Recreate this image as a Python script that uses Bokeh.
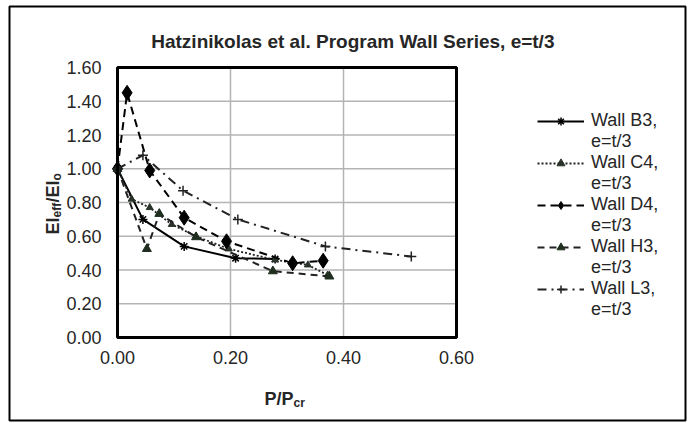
import math
from bokeh.plotting import figure
from bokeh.models import Legend, LegendItem, Label, BoxAnnotation, Range1d
from bokeh.core.properties import value
from bokeh.embed import file_html
from bokeh.resources import INLINE

# ---- data ----
b3_x = [0.0, 0.045, 0.118, 0.209, 0.279]
b3_y = [1.00, 0.70, 0.54, 0.47, 0.465]

c4_x = [0.0, 0.025, 0.057, 0.096, 0.139, 0.197, 0.279, 0.337, 0.372]
c4_y = [1.00, 0.82, 0.77, 0.67, 0.60, 0.525, 0.46, 0.43, 0.37]

d4_x = [0.0, 0.017, 0.057, 0.118, 0.193, 0.310, 0.364]
d4_y = [1.00, 1.45, 0.99, 0.71, 0.57, 0.44, 0.455]

h3_x = [0.0, 0.052, 0.074, 0.139, 0.275, 0.375]
h3_y = [1.00, 0.525, 0.733, 0.595, 0.393, 0.362]

l3_x = [0.0, 0.045, 0.116, 0.213, 0.368, 0.520]
l3_y = [1.00, 1.08, 0.87, 0.70, 0.54, 0.48]

series_names = ["Wall B3,", "Wall C4,", "Wall D4,", "Wall H3,", "Wall L3,"]
series_suffix = "e=t/3"
x_ticks = [0.0, 0.2, 0.4, 0.6]
y_ticks = [0.0, 0.2, 0.4, 0.6, 0.8, 1.0, 1.2, 1.4, 1.6]
title_text = "Hatzinikolas  et al. Program Wall Series, e=t/3"

FONT = "Liberation Sans"
TXT = "#262626"
W, H = 689, 423
# plot box placement on the canvas (pixels)
BOX_L, BOX_R, BOX_T, BOX_B = 117, 456, 67, 337

x_lo, x_hi = x_ticks[0], x_ticks[-1]
y_lo, y_hi = y_ticks[0], y_ticks[-1]
xs = (x_hi - x_lo) / (BOX_R - BOX_L)
ys = (y_hi - y_lo) / (BOX_B - BOX_T)

p = figure(width=W, height=H, min_border=0,
           x_range=Range1d(x_lo - BOX_L * xs, x_lo + (W - BOX_L) * xs),
           y_range=Range1d(y_lo - (H - BOX_B) * ys, y_lo + BOX_B * ys),
           x_axis_type=None, y_axis_type=None,
           output_backend="svg", toolbar_location=None,
           background_fill_color="white", border_fill_color="white")
p.outline_line_color = None
p.xgrid.visible = False
p.ygrid.visible = False

# grid lines inside the plot box
p.segment(x0=x_ticks, y0=[y_lo] * len(x_ticks), x1=x_ticks, y1=[y_hi] * len(x_ticks),
          line_color="#b4b4b4", line_width=1.5)
p.segment(x0=[x_lo] * len(y_ticks), y0=y_ticks, x1=[x_hi] * len(y_ticks), y1=y_ticks,
          line_color="#b4b4b4", line_width=1.5)

# tick labels
p.text(x=[x_lo] * len(y_ticks), y=y_ticks, text=[f"{t:.2f}" for t in y_ticks],
       x_offset=-16, text_align="right", text_baseline="middle",
       text_font=value(FONT), text_font_size="18px", text_color=TXT)
p.text(x=x_ticks, y=[y_lo] * len(x_ticks), text=[f"{t:.2f}" for t in x_ticks],
       y_offset=13, text_align="center", text_baseline="top",
       text_font=value(FONT), text_font_size="18px", text_color=TXT)

# ---- series ----
lb = p.line(b3_x, b3_y, line_color="black", line_width=2)
mb = p.scatter(b3_x, b3_y, marker="asterisk", size=9, line_color="black", line_width=1.5)

lc = p.line(c4_x, c4_y, line_color="#222", line_width=1.8, line_dash="2 2")
mc = p.scatter(c4_x, c4_y, marker="triangle", size=7, fill_color="#2a332a", line_color="#2a332a")

ld = p.line(d4_x, d4_y, line_color="black", line_width=2, line_dash="8 5")
md = p.scatter(d4_x, d4_y, marker="diamond", size=15, fill_color="black", line_color="black")

lh = p.line(h3_x, h3_y, line_color="#222", line_width=2, line_dash="7 5")
mh = p.scatter(h3_x, h3_y, marker="triangle", size=9, fill_color="#1f2e1f", line_color="#1f2e1f")

ll = p.line(l3_x, l3_y, line_color="#222", line_width=2, line_dash="9 5 2 5")
ml = p.scatter(l3_x, l3_y, marker="cross", size=10, line_color="#222", line_width=1.5)

# plot box outline (drawn on top of grid)
p.quad(left=[x_lo], right=[x_hi], bottom=[y_lo], top=[y_hi],
       fill_alpha=0, line_color="black", line_width=3)

series_renderers = [[lb, mb], [lc, mc], [ld, md], [lh, mh], [ll, ml]]
items = []
for name, rs in zip(series_names, series_renderers):
    items.append(LegendItem(label=name, renderers=rs))
    items.append(LegendItem(label=series_suffix, renderers=[]))
legend = Legend(items=items, location=(537, H - 320), border_line_alpha=0,
                background_fill_alpha=0, label_text_font=FONT,
                label_text_font_size="18px", label_text_color=TXT,
                label_height=20, glyph_width=47, glyph_height=20,
                label_standoff=7, spacing=0, padding=0, margin=0)
p.add_layout(legend)

# ---- texts (screen units: x from left, y from bottom of canvas) ----
def lab(text, x, y, size, bold=False, angle=0.0, align="left"):
    p.add_layout(Label(x=x, y=H - y, x_units="screen", y_units="screen",
                       text=text, text_font=FONT, text_font_size=f"{size}px",
                       text_font_style="bold" if bold else "normal",
                       text_color=TXT, angle=angle, text_align=align,
                       text_baseline="alphabetic"))

lab(title_text, 355, 41, 19, bold=True, align="center")
# x axis title P/Pcr
lab("P/P", 264, 398, 18, bold=True)
lab("cr", 293, 402, 12, bold=True)
# y axis title EIeff/EIo (rotated)
rot = math.pi / 2
lab("EI", 52, 234, 18, bold=True, angle=rot)
lab("eff", 56, 217, 12, bold=True, angle=rot)
lab("/EI", 52, 202, 18, bold=True, angle=rot)
lab("o", 56, 180, 12, bold=True, angle=rot)

# outer border
p.add_layout(BoxAnnotation(left=9, right=685, top=6, bottom=420,
                           left_units="canvas", right_units="canvas",
                           top_units="canvas", bottom_units="canvas",
                           fill_alpha=0, line_color="black", line_alpha=1.0,
                           line_width=2))

open("out.html", "w").write(file_html(p, INLINE))
